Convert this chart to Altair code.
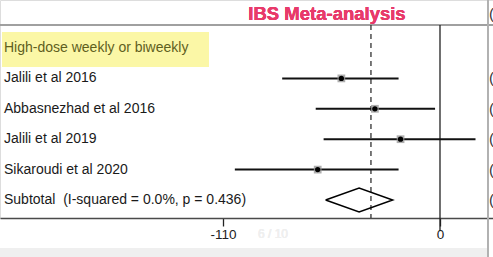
import altair as alt
import pandas as pd

# ---- data ----
studies = ["Jalili et al 2016", "Abbasnezhad et al 2016", "Jalili et al 2019", "Sikaroudi et al 2020"]
est = [-50, -33, -20, -62]
lo = [-80, -63, -59, -104]
hi = [-21, -2.5, 18, -21]
rows = [1, 2, 3, 4]

header = "High-dose weekly or biweekly"
subtotal_label = "Subtotal\u00a0\u00a0(I-squared = 0.0%, p = 0.436)"
sub_est, sub_lo, sub_hi = -41, -58, -24
sub_row = 5
overall = -35
tick_values = [-110, 0]

FONT = "Liberation Sans"
DIAM_H = 0.39  # half height of diamond in row units

studies_df = pd.DataFrame({"label": studies, "est": est, "lo": lo, "hi": hi, "row": rows})
labels_df = pd.DataFrame({"label": studies + [subtotal_label], "row": rows + [sub_row]})
header_df = pd.DataFrame({"label": [header], "row": [0]})
diamond_df = pd.DataFrame({
    "x": [sub_lo, sub_est, sub_hi, sub_est, sub_lo],
    "y": [sub_row, sub_row - DIAM_H, sub_row, sub_row + DIAM_H, sub_row],
    "o": [0, 1, 2, 3, 4],
})
paren_df = pd.DataFrame({"row": [-1.12] + rows + [sub_row]})

xscale = alt.Scale(domain=[-223.05, 26.87], nice=False, zero=False)
yscale = alt.Scale(domain=[-1.579, 5.592], reverse=True, nice=False, zero=False)
xaxis = alt.Axis(values=tick_values, title=None, grid=False, domainColor="#4a4a4a",
                 domainWidth=1.3, tickColor="#222", tickSize=8, tickWidth=1.3,
                 labelFontSize=13.5, labelColor="#222", labelFont=FONT, labelPadding=1,
                 labelFlush=False,
                 labelExpr="datum.value < 0 ? '-' + (-datum.value) : '' + datum.value")


def X(field, **kw):
    return alt.X(field, type="quantitative", scale=xscale, axis=xaxis, **kw)


def Y(field):
    return alt.Y(field, type="quantitative", scale=yscale, axis=None)


base = alt.Chart(studies_df)

band = base.mark_rect(color="#efefef").encode(
    x=alt.value(0), x2=alt.value(488), y=alt.value(248), y2=alt.value(257))
yellow = base.mark_rect(color="#fbf7a6").encode(
    x=alt.value(2), x2=alt.value(209), y=alt.value(32), y2=alt.value(67))
topline = base.mark_rule(color="#9a9a9a", strokeWidth=1.2).encode(
    x=alt.value(0), x2=alt.value(493), y=alt.value(25))
rightline = base.mark_rule(color="#b0b0b0", strokeWidth=1.2).encode(
    x=alt.value(488), y=alt.value(0), y2=alt.value(257))

zero_line = alt.Chart(pd.DataFrame({"v": [0]})).mark_rule(color="#222", strokeWidth=1.3).encode(
    x=X("v"), y=alt.value(25), y2=alt.value(231))
dash_line = alt.Chart(pd.DataFrame({"v": [overall]})).mark_rule(
    color="#333", strokeWidth=1.3, strokeDash=[5, 4]).encode(
    x=X("v"), y=alt.value(25), y2=alt.value(218))

ci = base.mark_rule(color="#111", strokeWidth=2).encode(x=X("lo"), x2="hi", y=Y("row"))
boxes = base.mark_square(color="#9a9a9a", size=60, opacity=0.8).encode(x=X("est"), y=Y("row"))
pts = base.mark_point(filled=True, color="#000", size=28, opacity=1).encode(x=X("est"), y=Y("row"))

diamond = alt.Chart(diamond_df).mark_line(color="#000", strokeWidth=1.5).encode(
    x=X("x"), y=Y("y"), order="o")

labels = alt.Chart(labels_df).mark_text(
    align="left", baseline="middle", font=FONT, fontSize=14, color="#1a1a1a").encode(
    x=alt.value(4), y=Y("row"), text="label")
head = alt.Chart(header_df).mark_text(
    align="left", baseline="middle", font=FONT, fontSize=14, color="#5f5f1e").encode(
    x=alt.value(4), y=Y("row"), text="label")

title = base.mark_text(text="IBS Meta-analysis", font=FONT, fontSize=18.5, fontWeight="bold",
                       color="#e83a6a", align="center", baseline="middle").encode(
    x=alt.value(327), y=alt.value(14))

parens = alt.Chart(paren_df).mark_text(text="(", align="left", baseline="middle", font=FONT,
                                       fontSize=15, color="#333").encode(
    x=alt.value(489), y=Y("row"))

ghost = base.mark_text(text="6 / 10", font=FONT, fontSize=12, color="#efefef",
                       align="left", baseline="middle").encode(x=alt.value(258), y=alt.value(234))

chart = alt.layer(
    band, yellow, topline, rightline, zero_line, dash_line, ci, boxes, pts, diamond,
    labels, head, title, parens, ghost
).properties(
    width=493, height=218,
    autosize=alt.AutoSizeParams(type="none"),
    padding={"left": 0, "top": 0, "right": 0, "bottom": 39},
).configure_view(stroke=None, clip=False).configure(background="white")

chart.save("out.html", embed_options={"renderer": "svg", "actions": False})
